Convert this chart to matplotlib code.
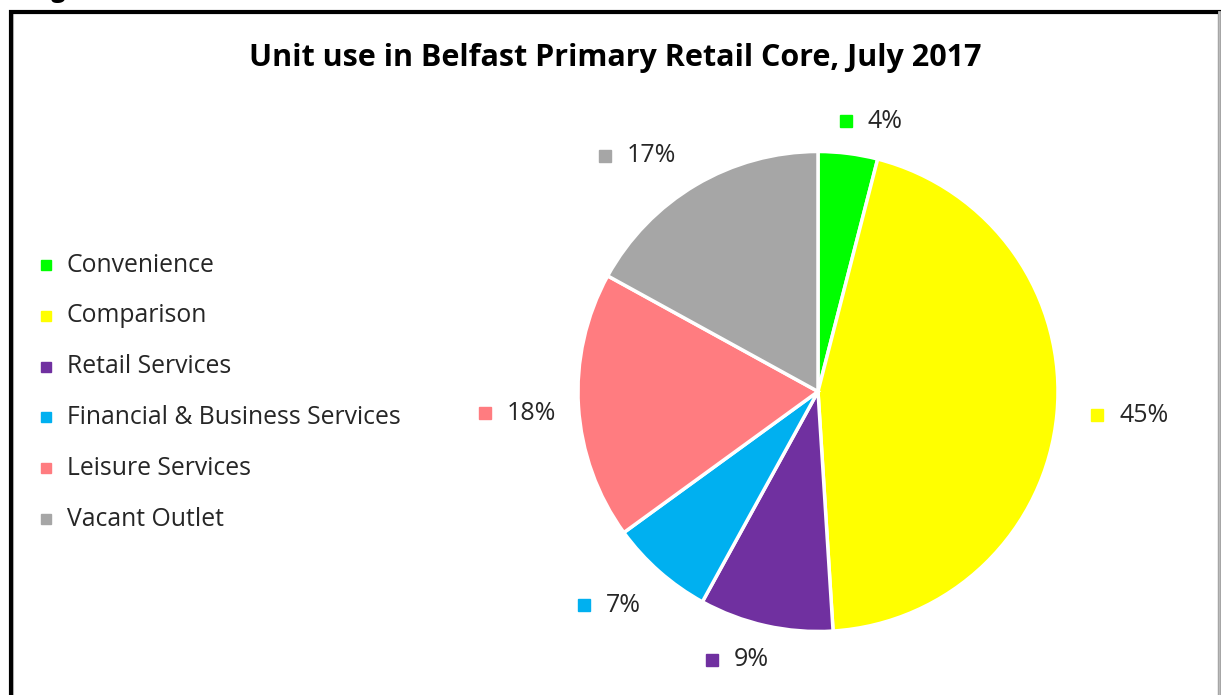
import matplotlib.pyplot as plt
from matplotlib.patches import Rectangle

# data
categories = ['Convenience', 'Comparison', 'Retail Services',
              'Financial & Business Services', 'Leisure Services', 'Vacant Outlet']
shares = [4, 45, 9, 7, 18, 17]
colors = ['#00FF00', '#FFFF00', '#7030A0', '#00B0F0', '#FF7C80', '#A6A6A6']
title = 'Unit use in Belfast Primary Retail Core, July 2017'

# layout (pixel coords, origin top-left)
W, H = 1221, 695
pie_center = (818, 391.5)
pie_radius = 240
label_xy = [(846, 121), (1097, 415), (712, 660), (584, 605), (485, 413), (605, 156)]
legend_x, legend_y0, legend_step = 46, 265, 50.8

plt.rcParams['font.family'] = ['Open Sans', 'DejaVu Sans']

fig = plt.figure(figsize=(W / 100, H / 100), dpi=100)
ax = fig.add_axes([0, 0, 1, 1])

wedges, _ = ax.pie(shares, colors=colors, startangle=90, counterclock=False,
                   center=(pie_center[0], H - pie_center[1]), radius=pie_radius,
                   wedgeprops=dict(edgecolor='white', linewidth=2.5))
ax.set_xlim(0, W)
ax.set_ylim(0, H)
ax.set_aspect('equal', adjustable='box')
ax.axis('off')

# data labels with a small coloured key square
for (lx, ly), v, c in zip(label_xy, shares, colors):
    ax.plot(lx, H - ly, marker='s', markersize=8.5, color=c, linestyle='none')
    ax.text(lx + 22, H - ly, '{}%'.format(v), fontsize=18, color='#262626',
            ha='left', va='center')

# legend drawn as rows
for i, (cat, c) in enumerate(zip(categories, colors)):
    y = H - (legend_y0 + i * legend_step)
    ax.plot(legend_x, y, marker='s', markersize=7.5, color=c, linestyle='none')
    ax.text(legend_x + 21, y, cat, fontsize=17.8, color='#262626', ha='left', va='center')

ax.text(615, H - 58, title, fontsize=22, fontweight='bold', ha='center', va='center',
        color='black')

# chart frame (shadow + black border)
ax.add_patch(Rectangle((13, -10), W, H - 13 + 10, fill=False, edgecolor='#BBBBBB',
                       linewidth=1.5, clip_on=False))
ax.add_patch(Rectangle((11, -10), W - 1 - 11, H - 12 + 10, fill=False, edgecolor='black',
                       linewidth=3, clip_on=False))
ax.plot([W - 2, W - 2], [0, H - 12], color='#BBBBBB', linewidth=2)

# caption cut off at top edge
ax.text(30, H + 3, 'Figure 3', fontsize=18, fontweight='bold', ha='left',
        va='baseline', color='black')

fig.savefig('out.png', dpi=100)
